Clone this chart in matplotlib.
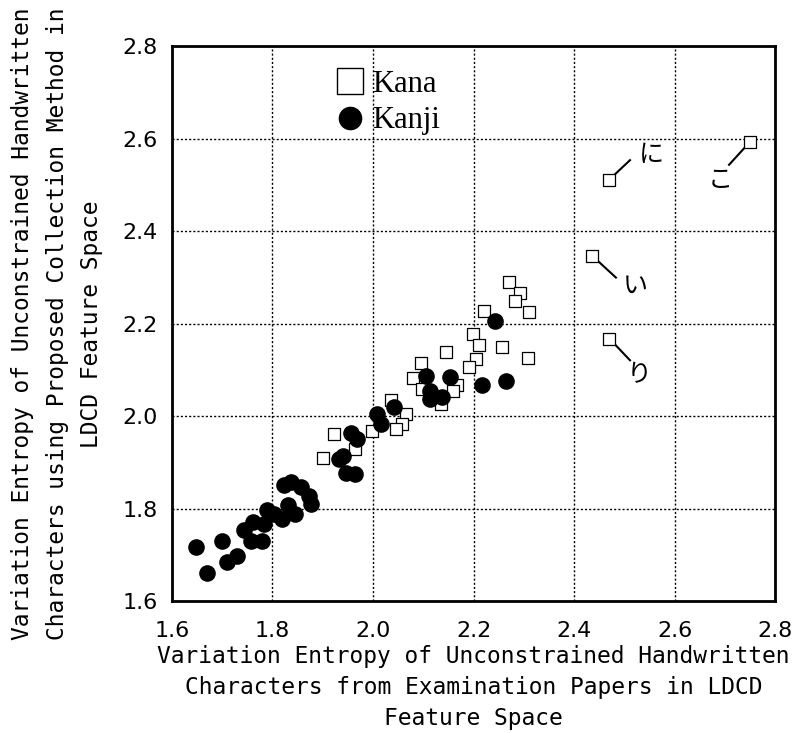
import matplotlib.pyplot as plt
from matplotlib.lines import Line2D

plt.rcParams['font.family'] = ['DejaVu Sans', 'Noto Sans CJK JP']

# Kanji (filled circles)
kanji_x = [1.647, 1.669, 1.700, 1.710, 1.729, 1.743, 1.761, 1.757, 1.779, 1.784,
           1.789, 1.802, 1.818, 1.822, 1.836, 1.830, 1.844, 1.857, 1.873, 1.876,
           1.932, 1.940, 1.946, 1.965, 1.956, 1.968, 2.007, 2.015, 2.041, 2.106,
           2.113, 2.113, 2.137, 2.153, 2.217, 2.243, 2.265]
kanji_y = [1.717, 1.661, 1.729, 1.685, 1.698, 1.754, 1.770, 1.729, 1.729, 1.767,
           1.798, 1.789, 1.778, 1.851, 1.858, 1.808, 1.789, 1.847, 1.828, 1.810,
           1.908, 1.914, 1.878, 1.876, 1.963, 1.951, 2.005, 1.984, 2.019, 2.088,
           2.055, 2.038, 2.042, 2.084, 2.067, 2.206, 2.077]

# Kana (open squares)
kana_x = [2.469, 2.750, 2.436, 2.470, 2.271, 2.293, 2.283, 2.310, 2.220, 2.199,
          2.210, 2.257, 2.309, 2.145, 2.204, 2.191, 2.095, 2.080, 2.098, 2.166,
          2.159, 2.135, 2.036, 2.065, 2.058, 2.046, 1.997, 1.923, 1.964, 1.901]
kana_y = [2.511, 2.594, 2.347, 2.168, 2.290, 2.266, 2.250, 2.225, 2.227, 2.178,
          2.153, 2.149, 2.127, 2.138, 2.124, 2.107, 2.115, 2.082, 2.059, 2.067,
          2.055, 2.027, 2.034, 2.005, 1.984, 1.972, 1.969, 1.961, 1.928, 1.910]

# labelled kana: character, point, line end, text position
labels = ['に', 'こ', 'い', 'り']
label_pt = [(2.469, 2.511), (2.750, 2.594), (2.436, 2.347), (2.470, 2.168)]
label_end = [(2.511, 2.554), (2.708, 2.544), (2.483, 2.300), (2.511, 2.121)]
label_txt = [(2.553, 2.565), (2.690, 2.510), (2.522, 2.283), (2.530, 2.090)]

ticks = [1.6, 1.8, 2.0, 2.2, 2.4, 2.6, 2.8]

fig = plt.figure(figsize=(7.96, 7.33), dpi=100)
ax = fig.add_axes([0.216, 0.180, 0.758, 0.7566])

ax.scatter(kana_x, kana_y, marker='s', s=85, facecolor='white',
           edgecolor='black', linewidth=0.9, zorder=3)
ax.scatter(kanji_x, kanji_y, marker='o', s=120, color='black', zorder=4)

for ch, p, e, t in zip(labels, label_pt, label_end, label_txt):
    ax.plot([p[0], e[0]], [p[1], e[1]], color='black', lw=1.5, zorder=2)
    ax.text(t[0], t[1], ch, fontsize=18, family='Noto Sans CJK JP',
            ha='center', va='center')

ax.set_xlim(1.6, 2.8)
ax.set_ylim(1.6, 2.8)
ax.set_xticks(ticks)
ax.set_yticks(ticks)
ax.set_xticklabels([f'{t:.1f}' for t in ticks])
ax.set_yticklabels([f'{t:.1f}' for t in ticks])
ax.tick_params(length=0, labelsize=16)
ax.tick_params(axis='x', pad=14)
ax.tick_params(axis='y', pad=10)
ax.grid(True, color='black', linestyle=(0, (1.5, 1.5)), linewidth=1.0)
ax.set_axisbelow(True)
for s in ax.spines.values():
    s.set_linewidth(2)

ax.set_xlabel('Variation Entropy of Unconstrained Handwritten\n'
              'Characters from Examination Papers in LDCD\n'
              'Feature Space', fontsize=16.5, family='DejaVu Sans Mono',
              linespacing=1.45, labelpad=3)
ax.set_ylabel('Variation Entropy of Unconstrained Handwritten\n'
              'Characters using Proposed Collection Method in\n'
              'LDCD Feature Space', fontsize=16.5, family='DejaVu Sans Mono',
              linespacing=1.65, labelpad=14)

handles = [
    Line2D([], [], linestyle='none', marker='s', markersize=19,
           markerfacecolor='white', markeredgecolor='black', markeredgewidth=1.0),
    Line2D([], [], linestyle='none', marker='o', markersize=16,
           color='black'),
]
ax.legend(handles, ['Kana', 'Kanji'], loc='upper left',
          bbox_to_anchor=(0.245, 0.98), frameon=False,
          prop={'family': 'Liberation Serif', 'size': 22},
          handletextpad=0.1, labelspacing=0.25, borderaxespad=0,
          handlelength=1.2)

fig.savefig('out.png', dpi=100)
